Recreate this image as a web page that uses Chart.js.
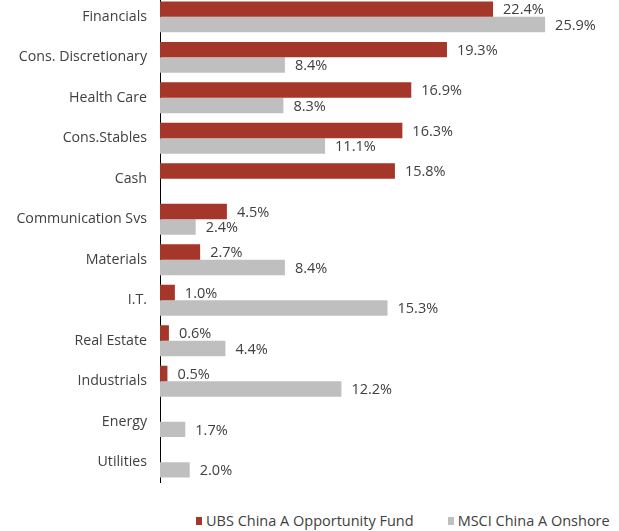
<!DOCTYPE html>
<html>
<head>
  <title>Sector allocation</title>
  <script src="https://cdn.jsdelivr.net/npm/chart.js"></script>
  <style>
    body { margin: 0; background: #fff; font-family: 'Open Sans', sans-serif; }
    .wrap { position: relative; width: 619px; height: 531px; overflow: hidden; }
    .chart-box { position: absolute; left: 0; top: -25px; width: 619px; height: 529px; }
    .legend { position: absolute; top: 511px; left: 196px; display: flex; font-size: 14.5px; color: #404040; }
    .legend span { display: flex; align-items: center; white-space: nowrap; }
    .legend i { display: inline-block; width: 6px; height: 8px; margin-right: 4px; }
  </style>
</head>
<body>
  <div class="wrap">
    <div class="chart-box"><canvas id="sectorChart"></canvas></div>
    <div class="legend">
      <span style="margin-right: 34px;"><i style="background:#a5372a"></i>UBS China A Opportunity Fund</span>
      <span><i style="background:#bfbfbf"></i>MSCI China A Onshore</span>
    </div>
  </div>

  <script>
    const sectors = ['Financials', 'Cons. Discretionary', 'Health Care', 'Cons.Stables', 'Cash',
      'Communication Svs', 'Materials', 'I.T.', 'Real Estate', 'Industrials', 'Energy', 'Utilities'];
    const fundValues = [22.4, 19.3, 16.9, 16.3, 15.8, 4.5, 2.7, 1.0, 0.6, 0.5, null, null];
    const indexValues = [25.9, 8.4, 8.3, 11.1, null, 2.4, 8.4, 15.3, 4.4, 12.2, 1.7, 2.0];

    // prints the value to the right of each bar
    const valueLabels = {
      id: 'valueLabels',
      afterDatasetsDraw(chart) {
        const ctx = chart.ctx;
        ctx.save();
        ctx.font = '14.5px "Open Sans", sans-serif';
        ctx.fillStyle = '#404040';
        ctx.textAlign = 'left';
        ctx.textBaseline = 'middle';
        chart.data.datasets.forEach((ds, i) => {
          chart.getDatasetMeta(i).data.forEach((bar, j) => {
            const v = ds.data[j];
            if (v == null) return;
            ctx.fillText(v.toFixed(1) + '%', bar.x + 10, bar.y + 1);
          });
        });
        ctx.restore();
      }
    };

    new Chart(document.getElementById('sectorChart'), {
      type: 'bar',
      data: {
        labels: sectors,
        datasets: [
          { label: 'UBS China A Opportunity Fund', data: fundValues, backgroundColor: '#a5372a',
            categoryPercentage: 0.76, barPercentage: 1.0 },
          { label: 'MSCI China A Onshore', data: indexValues, backgroundColor: '#bfbfbf',
            categoryPercentage: 0.76, barPercentage: 1.0 }
        ]
      },
      options: {
        indexAxis: 'y',
        responsive: true,
        maintainAspectRatio: false,
        animation: false,
        layout: { padding: 0 },
        plugins: { legend: { display: false }, tooltip: { enabled: false } },
        scales: {
          x: { display: false, min: 0, max: 30.87 },
          y: {
            grid: { display: false, drawTicks: false },
            border: { display: true, color: '#000', width: 1 },
            ticks: { color: '#404040', padding: 13, font: { family: 'Open Sans', size: 14.2 } },
            afterFit: s => { s.width = 160; }
          }
        }
      },
      plugins: [valueLabels]
    });
  </script>
</body>
</html>
